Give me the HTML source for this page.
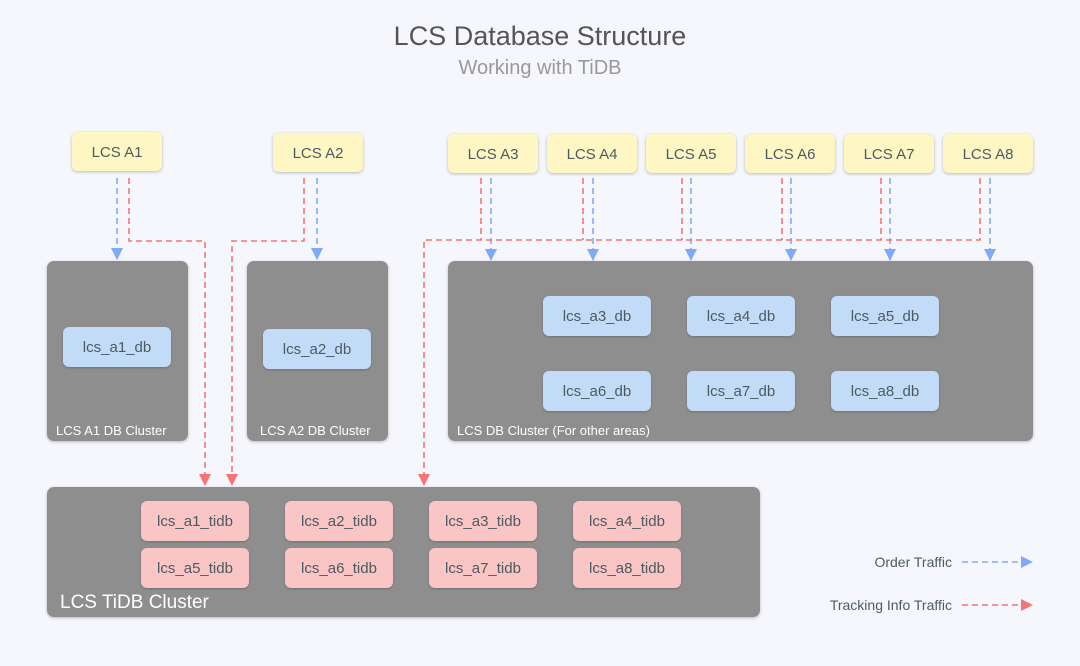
<!DOCTYPE html>
<html><head><meta charset="utf-8"><style>
body{margin:0;width:1080px;height:666px;background:#f6f7fc;font-family:"Liberation Sans",sans-serif;position:relative;overflow:hidden}
.a{position:absolute;box-sizing:border-box}
.y{background:#fef7c4;border-radius:6px;box-shadow:0 1px 3px rgba(0,0,0,.25);width:90px;height:39px;line-height:41px;text-align:center;font-size:15px;color:#4d5a62}
.g{background:#8e8e8e;border-radius:7px;box-shadow:0 1px 3px rgba(0,0,0,.25)}
.b{background:#c2dcf7;border-radius:6px;width:108px;height:40px;line-height:42px;text-align:center;font-size:15px;color:#4d5a62;box-shadow:0 1px 2px rgba(0,0,0,.2)}
.p{background:#f9c5c5;border-radius:6px;width:108px;height:40px;line-height:42px;text-align:center;font-size:15px;color:#4d5a62;box-shadow:0 1px 2px rgba(0,0,0,.2)}
.cl{color:#fff;font-size:13px}
</style></head><body>
<div class="a" style="left:0;width:1080px;top:21px;text-align:center;font-size:27px;color:#555">LCS Database Structure</div>
<div class="a" style="left:0;width:1080px;top:57px;text-align:center;font-size:20px;color:#999">Working with TiDB</div>

<div class="a y" style="left:72px;top:132px">LCS A1</div>
<div class="a y" style="left:273px;top:133px">LCS A2</div>
<div class="a y" style="left:448px;top:134px">LCS A3</div>
<div class="a y" style="left:547px;top:134px">LCS A4</div>
<div class="a y" style="left:646px;top:134px">LCS A5</div>
<div class="a y" style="left:745px;top:134px">LCS A6</div>
<div class="a y" style="left:844px;top:134px">LCS A7</div>
<div class="a y" style="left:943px;top:134px">LCS A8</div>

<div class="a g" style="left:47px;top:261px;width:141px;height:180px"></div>
<div class="a cl" style="left:56px;top:423px">LCS A1 DB Cluster</div>
<div class="a g" style="left:247px;top:261px;width:141px;height:180px"></div>
<div class="a cl" style="left:260px;top:423px">LCS A2 DB Cluster</div>
<div class="a g" style="left:448px;top:261px;width:585px;height:180px"></div>
<div class="a cl" style="left:457px;top:423px">LCS DB Cluster (For other areas)</div>
<div class="a g" style="left:47px;top:487px;width:713px;height:130px"></div>
<div class="a" style="left:60px;top:592px;color:#fff;font-size:19px">LCS TiDB Cluster</div>

<div class="a b" style="left:63px;top:327px">lcs_a1_db</div>
<div class="a b" style="left:263px;top:329px">lcs_a2_db</div>
<div class="a b" style="left:543px;top:296px">lcs_a3_db</div>
<div class="a b" style="left:687px;top:296px">lcs_a4_db</div>
<div class="a b" style="left:831px;top:296px">lcs_a5_db</div>
<div class="a b" style="left:543px;top:371px">lcs_a6_db</div>
<div class="a b" style="left:687px;top:371px">lcs_a7_db</div>
<div class="a b" style="left:831px;top:371px">lcs_a8_db</div>

<div class="a p" style="left:141px;top:501px">lcs_a1_tidb</div>
<div class="a p" style="left:285px;top:501px">lcs_a2_tidb</div>
<div class="a p" style="left:429px;top:501px">lcs_a3_tidb</div>
<div class="a p" style="left:573px;top:501px">lcs_a4_tidb</div>
<div class="a p" style="left:141px;top:548px">lcs_a5_tidb</div>
<div class="a p" style="left:285px;top:548px">lcs_a6_tidb</div>
<div class="a p" style="left:429px;top:548px">lcs_a7_tidb</div>
<div class="a p" style="left:573px;top:548px">lcs_a8_tidb</div>

<div class="a" style="left:800px;width:152px;top:554px;text-align:right;font-size:14px;color:#4d5a62">Order Traffic</div>
<div class="a" style="left:760px;width:192px;top:597px;text-align:right;font-size:14px;color:#4d5a62">Tracking Info Traffic</div>

<svg class="a" style="left:0;top:0" width="1080" height="666">
<defs>
<marker id="bl" markerWidth="12" markerHeight="12" refX="11" refY="6" orient="auto" markerUnits="userSpaceOnUse"><path d="M0,0L12,6L0,12z" fill="#80aaf8"/></marker>
<marker id="rd" markerWidth="12" markerHeight="12" refX="11" refY="6" orient="auto" markerUnits="userSpaceOnUse"><path d="M0,0L12,6L0,12z" fill="#f77474"/></marker>
</defs>
<g fill="none" stroke-width="1.6" stroke-dasharray="6,4">
<g stroke="#80aaf8" marker-end="url(#bl)">
<path d="M117,178V259"/><path d="M317,178V259"/>
<path d="M491,178V260"/><path d="M593,178V260"/><path d="M691,178V260"/><path d="M791,178V260"/><path d="M890,178V260"/><path d="M990,178V260"/>
<path d="M962,562H1032"/>
</g>
<g stroke="#f77474">
<path d="M129,178V241H205V485" marker-end="url(#rd)"/>
<path d="M304,178V241H232V485" marker-end="url(#rd)"/>
<path d="M980,178V240H424V485" marker-end="url(#rd)"/>
<path d="M481,178V240"/><path d="M583,178V240"/><path d="M682,178V240"/><path d="M782,178V240"/><path d="M881,178V240"/>
<path d="M962,605H1032" marker-end="url(#rd)"/>
</g>
</g>
</svg>
</body></html>
